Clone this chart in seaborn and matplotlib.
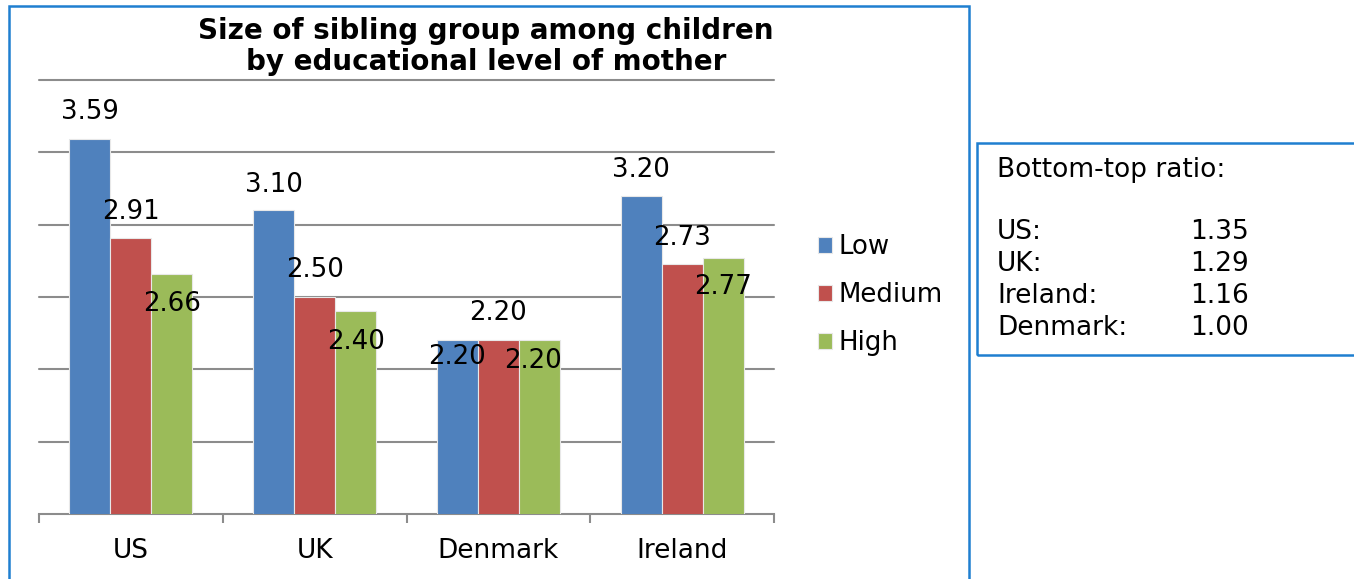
import matplotlib
matplotlib.use("Agg")
import matplotlib.pyplot as plt
from matplotlib.patches import Rectangle
import seaborn as sns
import pandas as pd

# --- data ---
countries = ["US", "UK", "Denmark", "Ireland"]
levels = ["Low", "Medium", "High"]
low = [3.59, 3.10, 2.20, 3.20]
medium = [2.91, 2.50, 2.20, 2.73]
high = [2.66, 2.40, 2.20, 2.77]
ratio_countries = ["US:", "UK:", "Ireland:", "Denmark:"]
ratios = [1.35, 1.29, 1.16, 1.00]
title_lines = ["Size of sibling group among children", "by educational level of mother"]

colors = ["#4F81BD", "#C0504D", "#9BBB59"]

df = pd.DataFrame({
    "country": countries * 3,
    "level": [lv for lv in levels for _ in countries],
    "size": low + medium + high,
})

sns.set_theme(style="white")
plt.rcParams["font.family"] = ["DejaVu Sans"]
plt.rcParams["text.color"] = "black"
plt.rcParams["xtick.color"] = "black"

W, H = 1354, 579
fig = plt.figure(figsize=(W / 100, H / 100), dpi=100)
ax = fig.add_axes([39 / W, 1 - 514 / H, (774 - 39) / W, (514 - 80) / H])

sns.barplot(data=df, x="country", y="size", hue="level", order=countries,
            hue_order=levels, palette=colors, saturation=1, width=0.67, gap=0,
            edgecolor="#e8e8e8", linewidth=0.8, ax=ax, zorder=3)

ax.set_ylim(1.0, 4.0)
ax.set_xlim(-0.5, len(countries) - 0.5)
ax.set_yticks([1.5, 2.0, 2.5, 3.0, 3.5, 4.0])
ax.set_yticklabels([])
ax.yaxis.grid(True, color="#8c8c8c", linewidth=1.5)
for gl in ax.yaxis.get_gridlines():
    gl.set_clip_on(False)
ax.set_axisbelow(True)
ax.tick_params(axis="y", length=0)
ax.set_xlabel("")
ax.set_ylabel("")
for side in ["left", "right", "top"]:
    ax.spines[side].set_visible(False)
ax.spines["bottom"].set_color("#8c8c8c")
ax.spines["bottom"].set_linewidth(1.5)
ax.set_xticks(range(len(countries)))
ax.set_xticklabels(countries, fontsize=19, color="black")
ax.tick_params(axis="x", which="major", bottom=True, length=0, pad=17,
               labelcolor="black")
ax.set_xticks([i - 0.5 for i in range(len(countries) + 1)], minor=True)
ax.tick_params(axis="x", which="minor", bottom=True, length=6.5, width=1.5,
               color="#8c8c8c", direction="out")

# value labels, nudged to keep neighbouring labels apart
offsets = {
    "Low": [(0, 27), (0, 25), (0, -17), (0, 26)],
    "Medium": [(0, 26), (0, 27), (0, 27), (0, 26)],
    "High": [(0, -30), (0, -31), (-6, -21), (0, -29)],
}
for container, lv in zip(ax.containers, levels):
    for i, bar in enumerate(container):
        val = bar.get_height()
        dx, dy = offsets[lv][i]
        ax.annotate(f"{val:.2f}", (bar.get_x() + bar.get_width() / 2, val),
                    xytext=(dx, dy), textcoords="offset pixels",
                    ha="center", va="center", fontsize=18.7, color="black",
                    zorder=5)

# legend to the right of the plot
handles, labels = ax.get_legend_handles_labels()
leg = ax.legend(handles, labels, loc="center left",
                bbox_to_anchor=(818 / W, 1 - 295 / H),
                bbox_transform=fig.transFigure, frameon=False, fontsize=18.7,
                handlelength=0.55, handleheight=0.55, handletextpad=0.25,
                labelspacing=0.85, borderpad=0, borderaxespad=0)
for t in leg.get_texts():
    t.set_color("black")

# title
fig.text(486 / W, 1 - 46.5 / H, "\n".join(title_lines), ha="center", va="center",
         fontsize=20, fontweight="bold", linespacing=1.15, color="black")

# chart frame
fig.patches.append(Rectangle((9 / W, -0.05), (969 - 9) / W, 1 - 6 / H + 0.05,
                             transform=fig.transFigure, fill=False,
                             edgecolor="#1F7FD0", linewidth=1.8))

# ratio box
fig.patches.append(Rectangle((977 / W, 1 - 355 / H), 400 / W, (355 - 143) / H,
                             transform=fig.transFigure, fill=False,
                             edgecolor="#1F7FD0", linewidth=1.8))
fig.text(997 / W, 1 - 170 / H, "Bottom-top ratio:", ha="left", va="center", fontsize=19)
for k, (name, r) in enumerate(zip(ratio_countries, ratios)):
    y = 1 - (232 + 32 * k) / H
    fig.text(997 / W, y, name, ha="left", va="center", fontsize=19)
    fig.text(1190 / W, y, f"{r:.2f}", ha="left", va="center", fontsize=19)

fig.savefig("out.png", dpi=100, facecolor="white")
